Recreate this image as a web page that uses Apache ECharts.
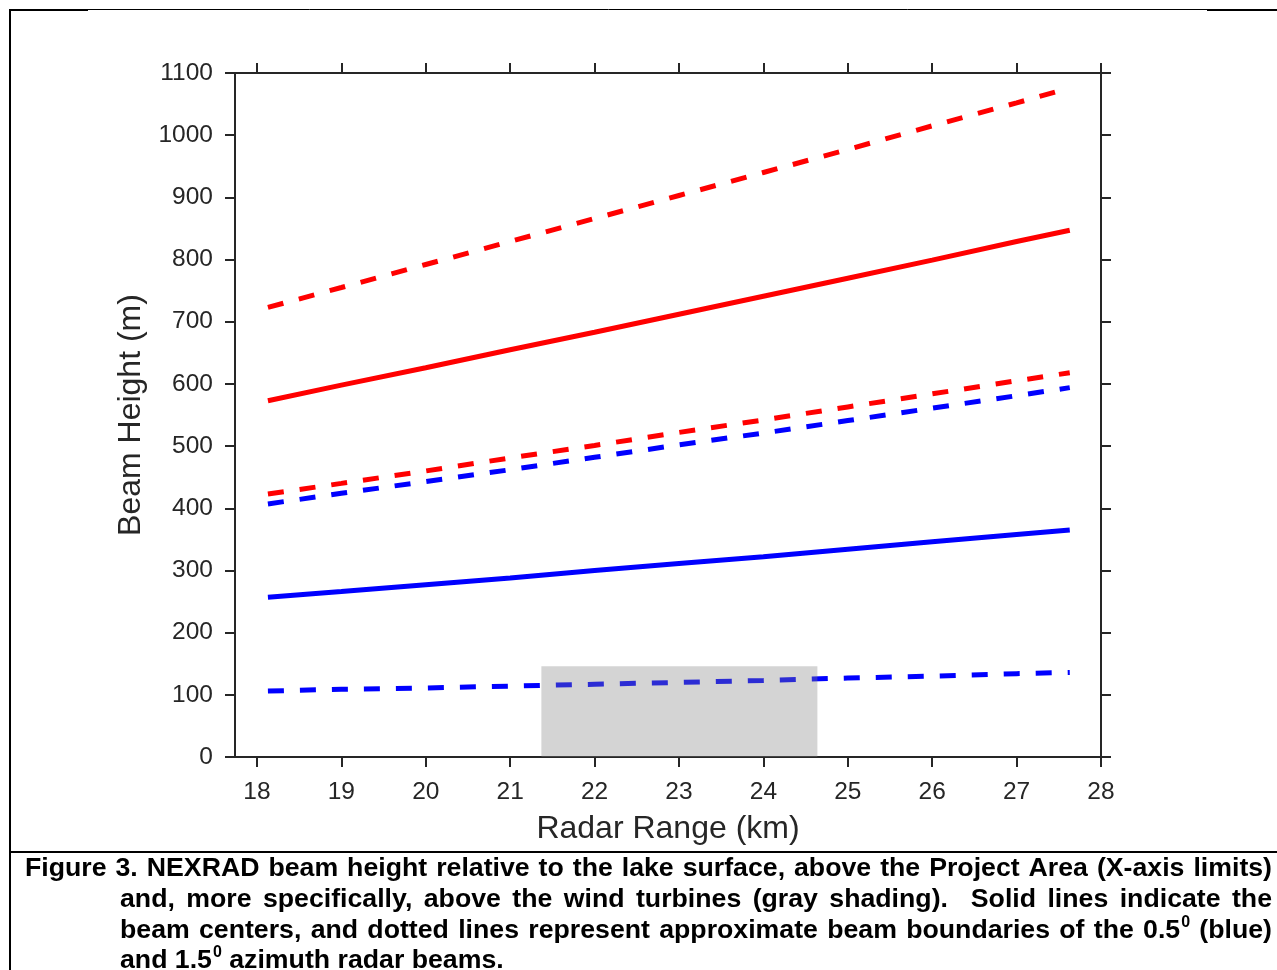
<!DOCTYPE html>
<html>
<head>
<meta charset="utf-8">
<script src="https://cdn.jsdelivr.net/npm/echarts@6/dist/echarts.min.js"></script>
<style>
html,body{margin:0;padding:0;background:#fff;}
#chart{width:1277px;height:970px;}
</style>
</head>
<body>
<div id="chart"></div>
<script>
// ---- data ----
const rangeKm = [18.13, 19, 20, 21, 22, 23, 24, 25, 26, 27, 27.63];
const beam05Lower  = [106, 109, 111, 114, 117, 120, 123, 127, 130, 134, 136];
const beam05Center = [257, 266, 277, 288, 300, 311, 322, 334, 346, 358, 365];
const beam05Upper  = [407, 424, 443, 462, 482, 502, 521, 541, 561, 581, 594];
const beam15Lower  = [423, 440, 460, 481, 501, 522, 542, 563, 584, 605, 618];
const beam15Center = [573, 598, 626, 655, 683, 712, 741, 770, 799, 829, 847];
const beam15Upper  = [723, 755, 792, 829, 866, 903, 940, 977, 1015, 1052, 1076];
const turbineRangeKm = [21.37, 24.64];
const turbineTopM = 146;
const xTickValues = [18, 19, 20, 21, 22, 23, 24, 25, 26, 27, 28];
const xAxisMin = 17.74, xAxisMax = 28;
const yAxisMin = 0, yAxisMax = 1100, yInterval = 100;
const xTitle = 'Radar Range (km)';
const yTitle = 'Beam Height (m)';
const captionLines = [
  'Figure 3. NEXRAD beam height relative to the lake surface, above the Project Area (X-axis limits)',
  'and, more specifically, above the wind turbines (gray shading).  Solid lines indicate the',
  'beam centers, and dotted lines represent approximate beam boundaries of the 0.5^0 (blue)',
  'and 1.5^0 azimuth radar beams.'
];

// ---- build ----
const axisColor = '#262626';
const fontFamily = '"Liberation Sans", Arial, Helvetica, sans-serif';
function pairs(ys){ return rangeKm.map((x,i)=>[x, ys[i]]); }

const series = [];
function addLine(name, ys, color, dashed){
  series.push({
    name, type:'line', data: pairs(ys), showSymbol:false, symbol:'none',
    xAxisIndex:0, yAxisIndex:0, z:2, silent:true,
    lineStyle:{color, width:5, type: dashed ? [16,16] : 'solid', cap:'butt'}
  });
}
addLine('0.5 lower', beam05Lower, '#0000ff', true);
addLine('0.5 center', beam05Center, '#0000ff', false);
addLine('0.5 upper', beam05Upper, '#0000ff', true);
addLine('1.5 lower', beam15Lower, '#ff0000', true);
addLine('1.5 center', beam15Center, '#ff0000', false);
addLine('1.5 upper', beam15Upper, '#ff0000', true);
series.push({
  type:'custom', z:5, silent:true, xAxisIndex:0, yAxisIndex:0,
  data:[[turbineRangeKm[0], turbineRangeKm[1], turbineTopM]],
  renderItem:function(params, api){
    const p0 = api.coord([api.value(0), api.value(2)]);
    const p1 = api.coord([api.value(1), 0]);
    return {type:'rect', shape:{x:p0[0], y:p0[1], width:p1[0]-p0[0], height:p1[1]-p0[1]},
      style:{fill:'rgba(128,128,128,0.34)'}};
  }
});

// caption layout (justified)
const capFontSize = 26.7, supFontSize = 16;
const capFont = 'bold ' + capFontSize + 'px ' + fontFamily;
const supFont = 'bold ' + supFontSize + 'px ' + fontFamily;
const mctx = document.createElement('canvas').getContext('2d');
function tw(t, f){ mctx.font = f; return mctx.measureText(t).width; }
const capLayout = [
  {left:25, baseline:877, justify:true},
  {left:120, baseline:908, justify:true},
  {left:120, baseline:939, justify:true},
  {left:120, baseline:969, justify:false}
];
const capRight = 1272;
const graphics = [];
captionLines.forEach((line, li) => {
  const L = capLayout[li];
  const words = line.split(' ').map(w => {
    const parts = w.split('^');
    const main = parts[0], sup = parts[1] || '';
    const wm = tw(main, capFont), ws = sup ? tw(sup, supFont) + 1 : 0;
    return {main, sup, wm, w: wm + ws};
  });
  const total = words.reduce((s,w)=>s+w.w, 0);
  const gap = L.justify ? (capRight - L.left - total) / (words.length - 1) : tw(' ', capFont);
  let x = L.left;
  words.forEach(w => {
    if (w.main) graphics.push({type:'text', x:x, y:L.baseline + Math.round(capFontSize*0.2), silent:true,
      style:{text:w.main, font:capFont, fill:'#000', align:'left', verticalAlign:'bottom'}});
    if (w.sup) graphics.push({type:'text', x:x + w.wm + 1, y:L.baseline - 11 + Math.round(supFontSize*0.2), silent:true,
      style:{text:w.sup, font:supFont, fill:'#000', align:'left', verticalAlign:'bottom'}});
    x += w.w + gap;
  });
});

// frame lines
function ln(x1,y1,x2,y2,w){ return {type:'line', silent:true, shape:{x1,y1,x2,y2}, style:{stroke:'#000', lineWidth:w}}; }
graphics.push(ln(10, 9.5, 1207, 9.5, 1));
graphics.push(ln(10, 10, 88, 10, 2));
graphics.push(ln(1207, 10, 1277, 10, 2));
graphics.push(ln(10, 9, 10, 970, 2));
graphics.push(ln(10, 852, 1277, 852, 2));

const labelStyle = {color:axisColor, fontSize:24.5, fontFamily:fontFamily};
const plainNum = v => String(v);
const chart = echarts.init(document.getElementById('chart'), null, {renderer:'canvas'});
chart.setOption({
  animation:false,
  backgroundColor:'#fff',
  grid:{left:235, right:176, top:73, bottom:213, containLabel:false},
  xAxis:[
    {type:'value', position:'bottom', min:xAxisMin, max:xAxisMax,
     name:xTitle, nameLocation:'middle', nameGap:56,
     nameTextStyle:{color:axisColor, fontSize:32, fontFamily:fontFamily},
     axisLine:{show:true, onZero:false, lineStyle:{color:axisColor, width:2}},
     axisTick:{show:true, length:10, inside:false, customValues:xTickValues, lineStyle:{color:axisColor, width:2}},
     axisLabel:Object.assign({margin:23, customValues:xTickValues, formatter:plainNum}, labelStyle),
     splitLine:{show:false}},
    {type:'value', position:'top', min:xAxisMin, max:xAxisMax,
     axisLine:{show:true, onZero:false, lineStyle:{color:axisColor, width:2}},
     axisTick:{show:true, length:10, inside:false, customValues:xTickValues, lineStyle:{color:axisColor, width:2}},
     axisLabel:{show:false}, splitLine:{show:false}}
  ],
  yAxis:[
    {type:'value', position:'left', min:yAxisMin, max:yAxisMax, interval:yInterval,
     name:yTitle, nameLocation:'middle', nameGap:82,
     nameTextStyle:{color:axisColor, fontSize:32, fontFamily:fontFamily},
     axisLine:{show:true, onZero:false, lineStyle:{color:axisColor, width:2}},
     axisTick:{show:true, length:10, inside:false, lineStyle:{color:axisColor, width:2}},
     axisLabel:Object.assign({margin:22, formatter:plainNum}, labelStyle),
     splitLine:{show:false}},
    {type:'value', position:'right', min:yAxisMin, max:yAxisMax, interval:yInterval,
     axisLine:{show:true, onZero:false, lineStyle:{color:axisColor, width:2}},
     axisTick:{show:true, length:10, inside:false, lineStyle:{color:axisColor, width:2}},
     axisLabel:{show:false}, splitLine:{show:false}}
  ],
  series: series,
  graphic: graphics
});
</script>
</body>
</html>
